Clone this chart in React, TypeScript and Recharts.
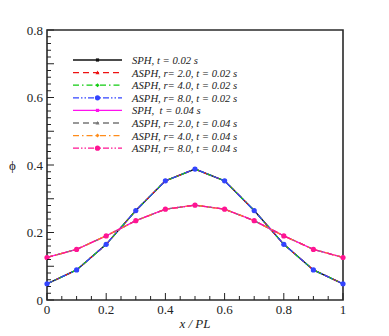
import React from 'react';
import { LineChart, Line, XAxis, YAxis, ReferenceArea, Legend } from 'recharts';

const xValues = [0, 0.1, 0.2, 0.3, 0.4, 0.5, 0.6, 0.7, 0.8, 0.9, 1];

const sph002 = [0.048, 0.089, 0.165, 0.265, 0.353, 0.388, 0.353, 0.265, 0.165, 0.089, 0.048];
const asphR2t002 = [0.048, 0.089, 0.165, 0.265, 0.353, 0.388, 0.353, 0.265, 0.165, 0.089, 0.048];
const asphR4t002 = [0.048, 0.089, 0.165, 0.265, 0.353, 0.388, 0.353, 0.265, 0.165, 0.089, 0.048];
const asphR8t002 = [0.048, 0.089, 0.165, 0.265, 0.353, 0.388, 0.353, 0.265, 0.165, 0.089, 0.048];
const sph004 = [0.126, 0.15, 0.19, 0.235, 0.269, 0.281, 0.269, 0.235, 0.19, 0.15, 0.126];
const asphR2t004 = [0.126, 0.15, 0.19, 0.235, 0.269, 0.281, 0.269, 0.235, 0.19, 0.15, 0.126];
const asphR4t004 = [0.126, 0.15, 0.19, 0.235, 0.269, 0.281, 0.269, 0.235, 0.19, 0.15, 0.126];
const asphR8t004 = [0.126, 0.15, 0.19, 0.235, 0.269, 0.281, 0.269, 0.235, 0.19, 0.15, 0.126];

const xTicks = [0, 0.05, 0.1, 0.15, 0.2, 0.25, 0.3, 0.35, 0.4, 0.45, 0.5, 0.55, 0.6, 0.65, 0.7, 0.75, 0.8, 0.85, 0.9, 0.95, 1];
const xTickLabels: Record<string, string> = { '0': '0', '0.2': '0.2', '0.4': '0.4', '0.6': '0.6', '0.8': '0.8', '1': '1' };
const yTicks = [0, 0.02, 0.04, 0.06, 0.08, 0.1, 0.12, 0.14, 0.16, 0.18, 0.2, 0.22, 0.24, 0.26, 0.28, 0.3, 0.32, 0.34, 0.36, 0.38, 0.4, 0.42, 0.44, 0.46, 0.48, 0.5, 0.52, 0.54, 0.56, 0.58, 0.6, 0.62, 0.64, 0.66, 0.68, 0.7, 0.72, 0.74, 0.76, 0.78, 0.8];
const yTickLabels: Record<string, string> = { '0': '0', '0.2': '0.2', '0.4': '0.4', '0.6': '0.6', '0.8': '0.8' };
const yMajor = [0, 0.1, 0.2, 0.3, 0.4, 0.5, 0.6, 0.7, 0.8];

const seriesNames = [
  'SPH, t = 0.02 s',
  'ASPH, r= 2.0, t = 0.02 s',
  'ASPH, r= 4.0, t = 0.02 s',
  'ASPH, r= 8.0, t = 0.02 s',
  'SPH,  t = 0.04 s',
  'ASPH, r= 2.0, t = 0.04 s',
  'ASPH, r= 4.0, t = 0.04 s',
  'ASPH, r= 8.0, t = 0.04 s',
];
const seriesValues = [sph002, asphR2t002, asphR4t002, asphR8t002, sph004, asphR2t004, asphR4t004, asphR8t004];

const styles = [
  { color: '#111111', dash: undefined, marker: 'square' },
  { color: '#ee1111', dash: '6 4', marker: 'triangle' },
  { color: '#11cc11', dash: '6 3 1.5 3', marker: 'diamond' },
  { color: '#3344ff', dash: '6 2 1.5 2 1.5 2', marker: 'circle' },
  { color: '#ff11ee', dash: undefined, marker: 'square' },
  { color: '#777777', dash: '6 4', marker: 'triangle' },
  { color: '#ff8c1a', dash: '6 3 1.5 3', marker: 'diamond' },
  { color: '#ff1493', dash: '6 2 1.5 2 1.5 2', marker: 'circle' },
];

const data = xValues.map((x, i) => {
  const row: Record<string, number> = { x };
  seriesValues.forEach((arr, k) => {
    row['s' + k] = arr[i];
  });
  return row;
});

const FONT = 'Liberation Serif';
const serifStyle: React.CSSProperties = { fontFamily: FONT };
const italicStyle: React.CSSProperties = { fontFamily: FONT, fontStyle: 'italic', whiteSpace: 'pre' };

function Marker({ kind, cx, cy, color }: { kind: string; cx: number; cy: number; color: string }) {
  if (kind === 'square') return <rect x={cx - 1.6} y={cy - 1.6} width={3.2} height={3.2} fill={color} />;
  if (kind === 'triangle')
    return <polygon points={`${cx},${cy - 2} ${cx - 2},${cy + 1.6} ${cx + 2},${cy + 1.6}`} fill={color} />;
  if (kind === 'diamond')
    return <polygon points={`${cx},${cy - 2} ${cx + 2},${cy} ${cx},${cy + 2} ${cx - 2},${cy}`} fill={color} />;
  return <circle cx={cx} cy={cy} r={2.6} fill={color} />;
}

const makeDot = (kind: string, color: string) => (props: any) => {
  const { cx, cy, index } = props;
  if (cx == null || cy == null) return <g key={index} />;
  return (
    <g key={index}>
      <Marker kind={kind} cx={cx} cy={cy} color={color} />
    </g>
  );
};

const XTick = (props: any) => {
  const { x, y, payload } = props;
  const v = Math.round(payload.value * 100) / 100;
  const label = xTickLabels[String(v)];
  const len = label !== undefined ? 7 : 4;
  return (
    <g>
      <line x1={x} x2={x} y1={y} y2={y - len} stroke="#222" strokeWidth={1} />
      {label !== undefined && (
        <text x={x} y={y + 14} textAnchor="middle" fontSize={13} fill="#222" style={serifStyle}>
          {label}
        </text>
      )}
    </g>
  );
};

const YTick = (props: any) => {
  const { x, y, payload } = props;
  const v = Math.round(payload.value * 100) / 100;
  const label = yTickLabels[String(v)];
  const isMajor = yMajor.some((m) => Math.abs(m - v) < 1e-6);
  const len = isMajor ? 7 : 4;
  return (
    <g>
      <line x1={x} x2={x + len} y1={y} y2={y} stroke="#222" strokeWidth={1} />
      {label !== undefined && (
        <text x={x - 4} y={y + 4.5} textAnchor="end" fontSize={13} fill="#222" style={serifStyle}>
          {label}
        </text>
      )}
    </g>
  );
};

const LegendContent = () => (
  <svg width={210} height={110} style={{ display: 'block', overflow: 'visible' }}>
    {seriesNames.map((name, i) => {
      const st = styles[i];
      const y = 12 + i * 12.6;
      return (
        <g key={name}>
          <line x1={5} x2={54} y1={y} y2={y} stroke={st.color} strokeWidth={1.3} strokeDasharray={st.dash} />
          <Marker kind={st.marker} cx={29.5} cy={y} color={st.color} />
          <text x={64} y={y + 4} fontSize={10.7} fill="#222" style={italicStyle}>
            {name}
          </text>
        </g>
      );
    })}
  </svg>
);

export default function App() {
  return (
    <div style={{ fontFamily: FONT }}>
      <LineChart
        width={381}
        height={328}
        data={data}
        margin={{ top: 22, right: 46, left: 0, bottom: 0 }}
      >
        <XAxis
          dataKey="x"
          type="number"
          domain={[0, 1]}
          ticks={xTicks}
          interval={0}
          height={36}
          axisLine={false}
          tickLine={false}
          tickSize={0}
          tickMargin={0}
          tick={<XTick />}
          label={{
            value: 'x / PL',
            position: 'insideBottom',
            offset: 8,
            fontSize: 13,
            fill: '#222',
            style: { fontFamily: FONT, fontStyle: 'italic', whiteSpace: 'pre' },
          }}
        />
        <YAxis
          type="number"
          domain={[0, 0.8]}
          ticks={yTicks}
          interval={0}
          width={39}
          axisLine={false}
          tickLine={false}
          tickSize={0}
          tickMargin={0}
          tick={<YTick />}
          label={{
            value: 'ϕ',
            position: 'insideLeft',
            offset: 1,
            fontSize: 13,
            fill: '#222',
            style: { fontFamily: FONT },
          }}
        />
        <ReferenceArea x1={0} x2={1} y1={0} y2={0.8} fill="none" stroke="#2a2a2a" strokeWidth={1.6} ifOverflow="visible" />
        {styles.map((st, k) => (
          <Line
            key={k}
            dataKey={'s' + k}
            name={seriesNames[k]}
            stroke={st.color}
            strokeWidth={1.3}
            strokeDasharray={st.dash}
            dot={makeDot(st.marker, st.color)}
            activeDot={false}
            isAnimationActive={false}
          />
        ))}
        <Legend
          layout="horizontal"
          verticalAlign="middle"
          align="center"
          wrapperStyle={{ left: 60, top: 40, width: 210, height: 110 }}
          content={<LegendContent />}
        />
      </LineChart>
    </div>
  );
}
